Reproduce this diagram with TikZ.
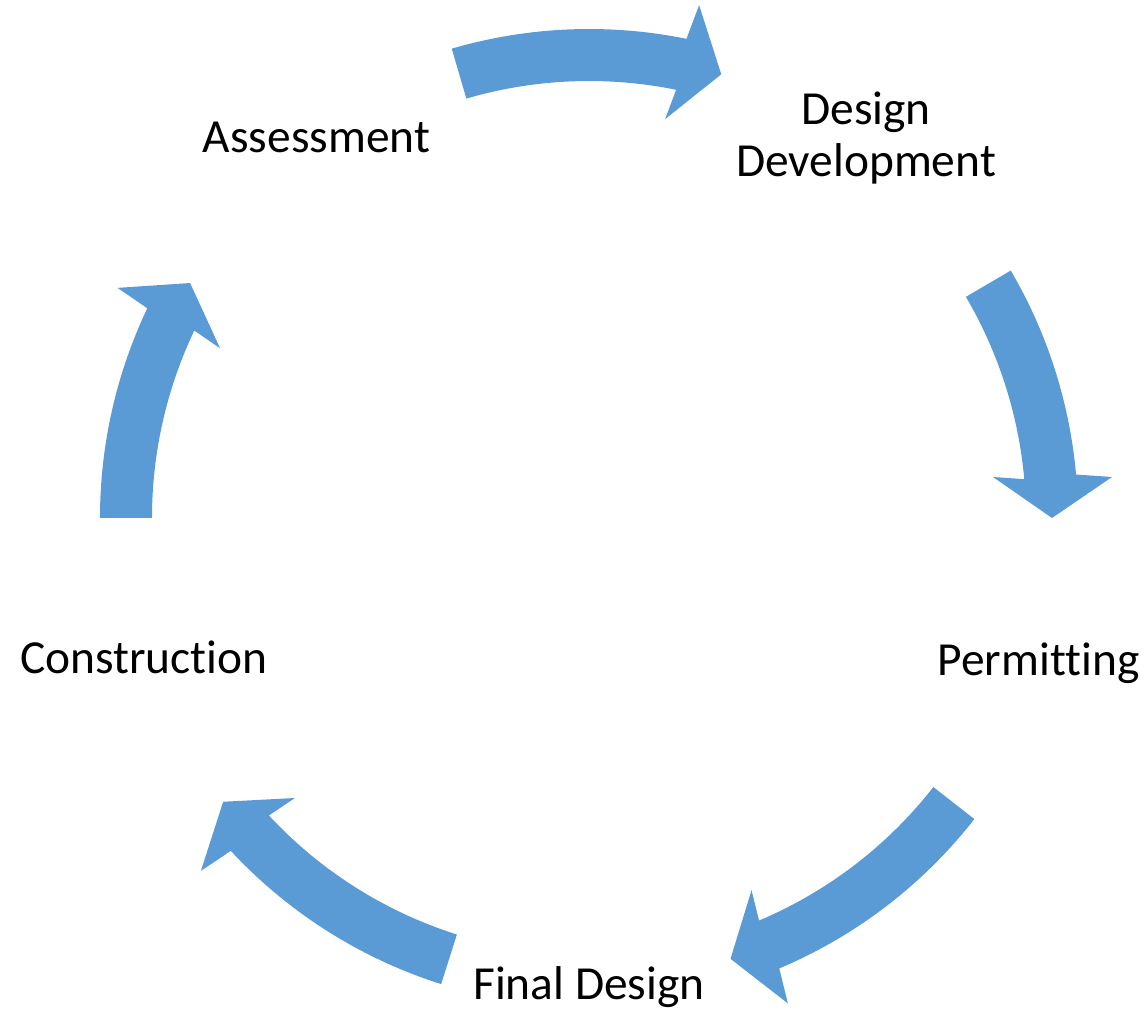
\documentclass[tikz,border=0pt]{standalone}
\usepackage{fontspec}
\setmainfont[Ligatures=NoCommon]{Carlito}
\usetikzlibrary{calc}
\definecolor{cycleblue}{RGB}{91,155,213}
\begin{document}
\begin{tikzpicture}[x=0.02cm, y=0.02cm,
  Stage/.style={font=\fontsize{27}{29.6}\selectfont, inner sep=0pt, anchor=base, align=center},
  BlockArrow/.style={fill=cycleblue, draw=none}]
\useasboundingbox (-589,518) rectangle (556,-492);

% the five curved block arrows, tail angle / tip angle
\foreach \tl/\tp in {180/149.5, 106.3/73.4, 30.4/0, -38/-72.2, -107.6/-142.2}
  \fill[BlockArrow] (\tl:489) arc[start angle=\tl, end angle=\tp+5.1, radius=489]
    -- ($(\tp:523)+({\tp+90}:41)$) -- (\tp:463) -- ($(\tp:404)+({\tp+90}:41)$)
    -- ({\tp+5.1}:437) arc[start angle=\tp+5.1, end angle=\tl, radius=437] -- cycle;

% the labels
\node[Stage] (Assessment) at (-272.5, 365.3) {Assessment};
\node[Stage] (DesignDev) at (277, 341) {Design\\Development};
\node[Stage] (Permitting) at (449.5, -157) {Permitting};
\node[Stage] (FinalDesign) at (0, -481) {Final Design};
\node[Stage] (Construction) at (-445, -155) {Construction};
\end{tikzpicture}
\end{document}
